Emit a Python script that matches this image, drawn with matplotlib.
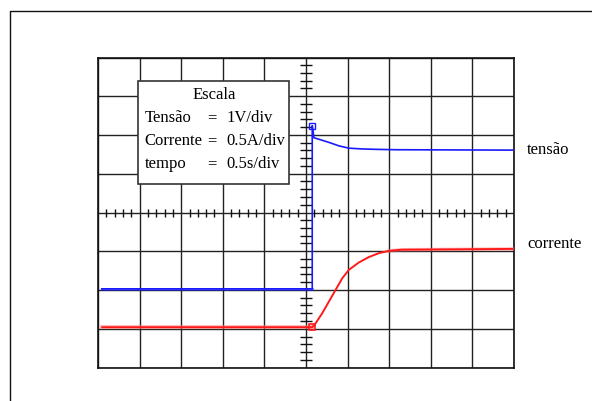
import numpy as np
import matplotlib.pyplot as plt
from matplotlib.lines import Line2D
from matplotlib.patches import Rectangle

# -----------------------------
# Data (in divisions, origin at screen centre)
# -----------------------------
tensao_x = [-4.91, 0.15, 0.15, 0.17, 0.19, 0.31, 0.55, 0.79, 1.03, 1.35, 1.68, 2.16, 4.97]
tensao_y = [-1.97, -1.97, 2.24, 2.10, 1.93, 1.89, 1.81, 1.72, 1.66, 1.64, 1.63, 1.62, 1.61]

corrente_x = [-4.90, 0.15, 0.23, 0.39, 0.55, 0.71, 0.87, 1.03, 1.27, 1.51, 1.75, 1.99, 2.31, 4.96]
corrente_y = [-2.96, -2.96, -2.86, -2.60, -2.30, -2.00, -1.70, -1.48, -1.29, -1.15, -1.05, -0.99, -0.96, -0.94]

scale_title = "Escala"
scale_names = ["Tensão", "Corrente", "tempo"]
scale_values = ["1V/div", "0.5A/div", "0.5s/div"]

plt.rcParams['font.family'] = ['Liberation Serif', 'DejaVu Serif']

# -----------------------------
# Figure / screen
# -----------------------------
W, H = 592, 401
fig = plt.figure(figsize=(W / 100, H / 100), dpi=100)
ax = fig.add_axes([98 / W, 1 - 367.5 / H, (514 - 98) / W, (367.5 - 57.5) / H])
ax.set_xlim(-5, 5)
ax.set_ylim(-4, 4)
ax.set_xticks(range(-5, 6))
ax.set_yticks(range(-4, 5))
ax.tick_params(length=0, labelbottom=False, labelleft=False)
ax.grid(True, color="#222222", linewidth=1.0)
for s in ax.spines.values():
    s.set_color("#111111")
    s.set_linewidth(1.2)

# minor ticks along centre axes
minor_x = [v for v in np.arange(-5, 5.01, 0.2) if abs(v - round(v)) > 1e-6]
minor_y = [v for v in np.arange(-4, 4.01, 0.2) if abs(v - round(v)) > 1e-6]
ax.plot(minor_x, np.zeros(len(minor_x)), linestyle="none", marker="|",
        markersize=6, color="#111111", markeredgewidth=1.0, zorder=2)
ax.plot(np.zeros(len(minor_y)), minor_y, linestyle="none", marker="_",
        markersize=8, color="#111111", markeredgewidth=1.0, zorder=2)

# -----------------------------
# Traces
# -----------------------------
ax.plot(tensao_x[:2], tensao_y[:2], color="#1a1aff", linewidth=2.0, alpha=0.6, zorder=3)
ax.plot(tensao_x, tensao_y, color="#1a1aff", linewidth=1.2, zorder=4)
ax.plot(tensao_x[2], tensao_y[2], marker="s", markersize=4, markerfacecolor="none",
        markeredgecolor="#1a1aff", markeredgewidth=1.0, zorder=5)
ax.plot(corrente_x, corrente_y, color="#ff1a1a", linewidth=1.4, zorder=4)
ax.plot(corrente_x[:2], corrente_y[:2], color="#ff8080", linewidth=3, alpha=0.5, zorder=3)
ax.plot(corrente_x[-3:], corrente_y[-3:], color="#ff8080", linewidth=2.5, alpha=0.5, zorder=3)
ax.plot(corrente_x[1], corrente_y[1], marker="s", markersize=4, markerfacecolor="none",
        markeredgecolor="#ff1a1a", markeredgewidth=1.2, zorder=5)

# -----------------------------
# Labels
# -----------------------------
ax.text(5.31, tensao_y[-1], "tensão", fontsize=12, va="center", ha="left", clip_on=False)
ax.text(5.31, -0.81, "corrente", fontsize=12, va="center", ha="left", clip_on=False)

# scale box
ax.add_patch(Rectangle((-4.04, 0.73), 3.64, 2.67, facecolor="white",
                       edgecolor="#333333", linewidth=1.2, zorder=6))
ax.text(-2.21, 3.03, scale_title, fontsize=12, ha="center", va="center", zorder=7)
for i, (name, val) in enumerate(zip(scale_names, scale_values)):
    yy = 2.44 - i * 0.595
    ax.text(-3.88, yy, name, fontsize=12, ha="left", va="center", zorder=7)
    ax.text(-2.26, yy, "=", fontsize=12, ha="center", va="center", zorder=7)
    ax.text(-1.92, yy, val, fontsize=12, ha="left", va="center", zorder=7)

# outer frame (left and top edges)
fig.add_artist(Line2D([9.5 / W, 9.5 / W, 1.0], [0.0, 1 - 11.3 / H, 1 - 11.3 / H],
                      transform=fig.transFigure, color="#111111", linewidth=1.0))

plt.savefig("out.png", dpi=100)
